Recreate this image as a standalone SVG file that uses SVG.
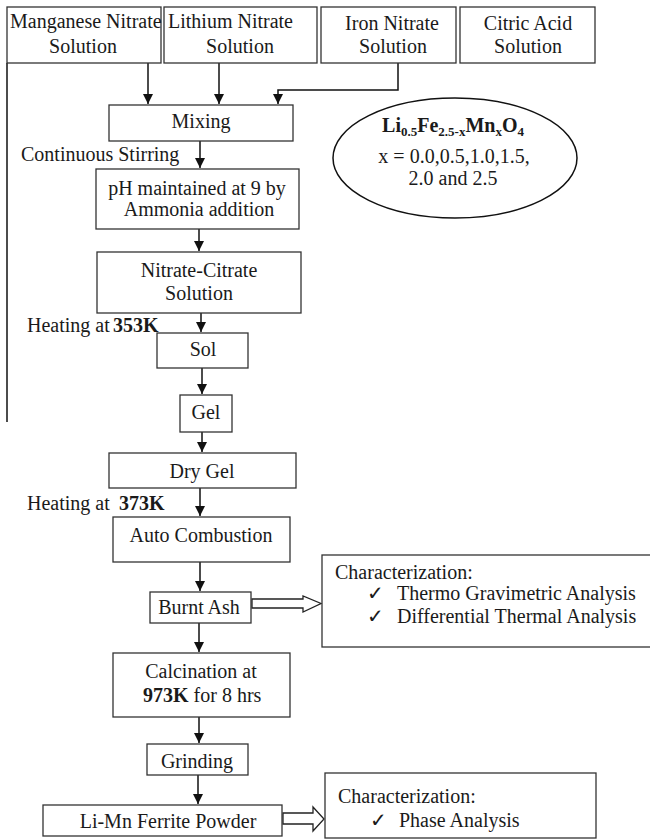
<svg xmlns="http://www.w3.org/2000/svg" width="650" height="839" viewBox="0 0 650 839">
<defs>
<marker id="ah" markerWidth="12" markerHeight="12" refX="10" refY="5" orient="auto" markerUnits="userSpaceOnUse">
<path d="M0,0 L10,5 L0,10 Z" fill="#111"/>
</marker>
<style>
text{font-family:'Liberation Serif','Times New Roman',Tinos,'DejaVu Serif',serif;font-size:20px;fill:#1a1a1a}
.box{fill:#fff;stroke:#333;stroke-width:1.3}
.c{text-anchor:middle}
.b{font-weight:bold}
.ln{fill:none;stroke:#111;stroke-width:1.5}
.hol{fill:#fff;stroke:#222;stroke-width:1.3}
</style>
</defs>
<rect width="650" height="839" fill="#fff"/>

<g id="connectors">
<line class="ln" x1="7" y1="63" x2="7" y2="422"/>
<line class="ln" x1="148" y1="63" x2="148" y2="104" marker-end="url(#ah)"/>
<line class="ln" x1="219" y1="63" x2="219" y2="104" marker-end="url(#ah)"/>
<polyline class="ln" points="398,63 398,90 278,90 278,104" marker-end="url(#ah)"/>
<line class="ln" x1="200" y1="141" x2="200" y2="168" marker-end="url(#ah)"/>
<line class="ln" x1="199" y1="229" x2="199" y2="251" marker-end="url(#ah)"/>
<line class="ln" x1="201" y1="313" x2="201" y2="332" marker-end="url(#ah)"/>
<line class="ln" x1="202" y1="368" x2="202" y2="394" marker-end="url(#ah)"/>
<line class="ln" x1="202" y1="432" x2="202" y2="452" marker-end="url(#ah)"/>
<line class="ln" x1="200" y1="488" x2="200" y2="516" marker-end="url(#ah)"/>
<line class="ln" x1="200" y1="562" x2="200" y2="591" marker-end="url(#ah)"/>
<line class="ln" x1="199" y1="623" x2="199" y2="652" marker-end="url(#ah)"/>
<line class="ln" x1="199" y1="717" x2="199" y2="743" marker-end="url(#ah)"/>
<line class="ln" x1="198" y1="775" x2="198" y2="804" marker-end="url(#ah)"/>
<polygon class="hol" points="252,599 303,599 303,596 321,603.5 303,612 303,608 252,608"/>
<polygon class="hol" points="283,813 313,813 313,807 324,819 313,831 313,824 283,824"/>
</g>

<g id="n-manganese">
<rect class="box" x="7" y="7" width="154" height="56"/>
<text x="10" y="28">Manganese Nitrate</text>
<text class="c" x="83" y="53">Solution</text>
</g>
<g id="n-lithium">
<rect class="box" x="164" y="7" width="153" height="56"/>
<text x="168" y="28">Lithium Nitrate</text>
<text class="c" x="240" y="53">Solution</text>
</g>
<g id="n-iron">
<rect class="box" x="321" y="7" width="135" height="56"/>
<text class="c" x="392" y="30">Iron Nitrate</text>
<text class="c" x="393" y="53">Solution</text>
</g>
<g id="n-citric">
<rect class="box" x="460" y="7" width="135" height="56"/>
<text class="c" x="528" y="30">Citric Acid</text>
<text class="c" x="528" y="53">Solution</text>
</g>

<g id="n-mixing">
<rect class="box" x="109" y="105" width="184" height="36"/>
<text class="c" x="201" y="128">Mixing</text>
</g>
<g id="n-formula">
<ellipse cx="455" cy="158" rx="122" ry="60" fill="#fff" stroke="#111" stroke-width="1.5"/>
<text class="c b" x="453" y="132">Li<tspan font-size="13" dy="4">0.5</tspan><tspan dy="-4">Fe</tspan><tspan font-size="13" dy="4">2.5-x</tspan><tspan dy="-4">Mn</tspan><tspan font-size="13" dy="4">x</tspan><tspan dy="-4">O</tspan><tspan font-size="13" dy="4">4</tspan></text>
<text class="c" x="454" y="163">x = 0.0,0.5,1.0,1.5,</text>
<text class="c" x="453" y="185">2.0 and 2.5</text>
</g>
<g id="l-stirring">
<text x="21" y="161">Continuous Stirring</text>
</g>
<g id="n-ph">
<rect class="box" x="96" y="169" width="203" height="60"/>
<text class="c" x="197" y="195">pH maintained at 9 by</text>
<text class="c" x="199" y="216">Ammonia addition</text>
</g>
<g id="n-nitrate-citrate">
<rect class="box" x="97" y="252" width="204" height="61"/>
<text class="c" x="199" y="277">Nitrate-Citrate</text>
<text class="c" x="199" y="300">Solution</text>
</g>
<g id="l-heat1">
<text x="27" y="332">Heating at <tspan class="b" x="113">353K</tspan></text>
</g>
<g id="n-sol">
<rect class="box" x="157" y="333" width="91" height="35"/>
<text class="c" x="203" y="356">Sol</text>
</g>
<g id="n-gel">
<rect class="box" x="180" y="395" width="52" height="37"/>
<text class="c" x="206" y="419">Gel</text>
</g>
<g id="n-drygel">
<rect class="box" x="109" y="453" width="187" height="35"/>
<text class="c" x="202" y="478">Dry Gel</text>
</g>
<g id="l-heat2">
<text x="27" y="510">Heating at <tspan class="b" x="119">373K</tspan></text>
</g>
<g id="n-autocomb">
<rect class="box" x="113" y="517" width="177" height="45"/>
<text class="c" x="201" y="542">Auto Combustion</text>
</g>
<g id="n-burntash">
<rect class="box" x="150" y="592" width="101" height="31"/>
<text class="c" x="199" y="614">Burnt Ash</text>
</g>
<g id="n-char1">
<rect class="box" x="322" y="555" width="334" height="92"/>
<text x="335" y="579">Characterization:</text>
<text x="367" y="600">✓</text>
<text x="397" y="600">Thermo Gravimetric Analysis</text>
<text x="367" y="623">✓</text>
<text x="397" y="623">Differential Thermal Analysis</text>
</g>
<g id="n-calcination">
<rect class="box" x="113" y="653" width="177" height="64"/>
<text class="c" x="201" y="678">Calcination at</text>
<text x="143" y="702"><tspan class="b">973K</tspan>  for 8 hrs</text>
</g>
<g id="n-grinding">
<rect class="box" x="147" y="744" width="101" height="31"/>
<text class="c" x="197" y="768">Grinding</text>
</g>
<g id="n-powder">
<rect class="box" x="43" y="805" width="239" height="31"/>
<text class="c" x="168" y="828">Li-Mn Ferrite Powder</text>
</g>
<g id="n-char2">
<rect class="box" x="325" y="773" width="271" height="65"/>
<text x="338" y="803">Characterization:</text>
<text x="370" y="827">✓</text>
<text x="399" y="827">Phase Analysis</text>
</g>
</svg>
